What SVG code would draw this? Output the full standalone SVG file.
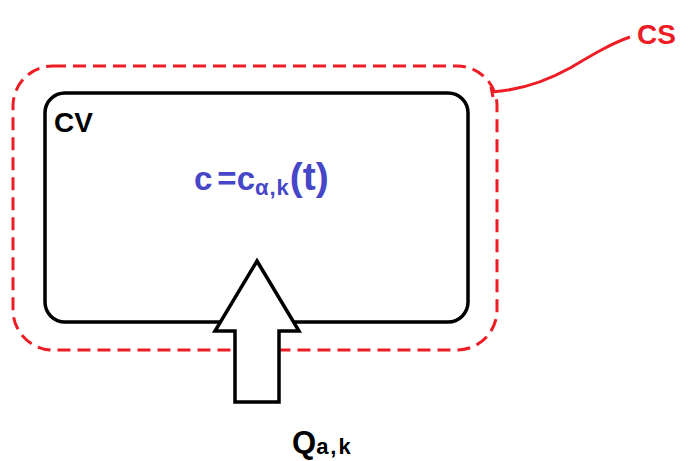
<svg xmlns="http://www.w3.org/2000/svg" width="688" height="461" viewBox="0 0 688 461">
<style>
.cs{fill:none;stroke:#ee1c24;stroke-width:3;stroke-dasharray:13 7}
.cv{fill:none;stroke:#000;stroke-width:3.5}
.t{font-family:"Liberation Sans",Arial,sans-serif;font-weight:bold}
</style>
<rect width="688" height="461" fill="#fff"/>
<g id="cs">
<rect class="cs" x="13" y="66" width="484" height="284" rx="40"/>
<text class="t" x="637" y="44" font-size="28" fill="#ee1c24">CS</text>
</g>
<g id="cv">
<rect class="cv" x="45" y="93" width="423" height="229" rx="20"/>
<text class="t" x="54" y="132" font-size="28" fill="#000">CV</text>
<text class="t" x="194" y="190" font-size="33" fill="#4646c8">c<tspan dx="5">=c</tspan><tspan font-size="22" dy="5" letter-spacing="1">α,k</tspan><tspan dy="-5" font-size="39">(t)</tspan></text>
</g>
<g id="q">
<polygon points="257,261 299,331 279,331 279,402 235,402 235,331 215,331" fill="#fff" stroke="#000" stroke-width="3.5" stroke-linejoin="miter"/>
<text class="t" x="292" y="453" font-size="31" fill="#000">Q<tspan font-size="22" dy="1" letter-spacing="2">a,k</tspan></text>
</g>
<g id="connectors">
<path d="M491,87 L493,97 M492,92 C520,90 545,82 570,68 C592,55 610,44 630,37" fill="none" stroke="#ee1c24" stroke-width="3"/>
</g>
</svg>
